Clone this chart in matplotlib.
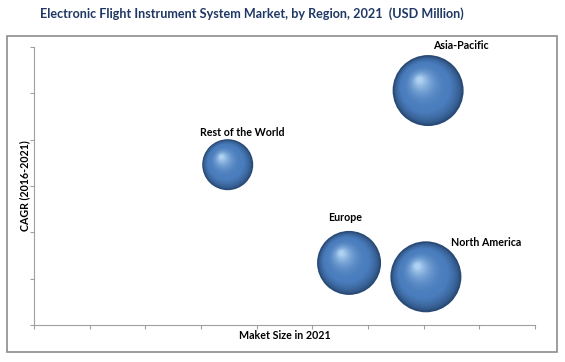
import numpy as np
import matplotlib
matplotlib.use("Agg")
import matplotlib.pyplot as plt
from matplotlib.transforms import offset_copy
from matplotlib.patches import Rectangle

# dữ liệu
regions = ["Asia-Pacific", "Rest of the World", "Europe", "North America"]
market_size = [7.08, 3.48, 5.66, 7.04]
cagr = [5.06, 3.46, 1.34, 1.04]
bubble = [35.5, 25.5, 32, 35.5]  # bán kính tương đối

plt.rcParams['font.family'] = ['Lato', 'DejaVu Sans']

fig = plt.figure(figsize=(5.65, 3.62), dpi=100)
ax = fig.add_axes([34 / 565, 1 - 325 / 362, 501 / 565, 278 / 362])

# khung viền ngoài
fig.patches.append(Rectangle((7 / 565, 1 - 352 / 362), 550 / 565, 316 / 362,
                             transform=fig.transFigure, fill=False,
                             edgecolor='#8c8c8c', linewidth=1.2))

# vẽ bóng tròn với hiệu ứng 3D đơn giản
dark = np.array([0.16, 0.29, 0.46])
mid = np.array([0.29, 0.49, 0.74])
light = np.array([0.68, 0.82, 0.95])
n_layers = 50
for x, y, r in zip(market_size, cagr, bubble):
    r_pt = r * 72 / 100
    ax.scatter([x], [y], s=(2 * r_pt) ** 2, color=dark, edgecolors='none', zorder=2)
    for k in range(1, n_layers + 1):
        f = k / n_layers
        rr = r_pt * (1 - 0.92 * f) * 0.97
        shift = r_pt * 0.3 * f
        tr = offset_copy(ax.transData, fig=fig, x=-shift * 0.8, y=shift, units='points')
        if f < 0.3:
            c = dark + (mid - dark) * (f / 0.3) ** 0.6
        else:
            c = mid + (light - mid) * ((f - 0.3) / 0.7) ** 2.2
        ax.scatter([x], [y], s=(2 * rr) ** 2, color=c, edgecolors='none',
                   transform=tr, zorder=2 + k * 0.01)

# nhãn vùng (độ lệch so với tâm bóng)
label_off = {
    "Asia-Pacific": (0.59, 0.98),
    "Rest of the World": (0.27, 0.69),
    "Europe": (-0.07, 0.99),
    "North America": (1.09, 0.73),
}
for name, x, y in zip(regions, market_size, cagr):
    dx, dy = label_off[name]
    ax.annotate(name, (x, y), xytext=(x + dx, y + dy), ha='center', va='center',
                fontsize=7.7, fontweight='bold', color='black')

ax.set_xlim(0, 9)
ax.set_ylim(0, 6)
ax.set_xticks(np.arange(0, 10))
ax.set_yticks(np.arange(0, 7))
ax.set_xticklabels([])
ax.set_yticklabels([])
ax.tick_params(length=3, color='#a0a0a0', width=0.8)
for s in ['top', 'right']:
    ax.spines[s].set_visible(False)
for s in ['left', 'bottom']:
    ax.spines[s].set_color('#a0a0a0')
    ax.spines[s].set_linewidth(0.8)

ax.set_xlabel("Maket Size in 2021", fontsize=7.7, fontweight='bold', labelpad=-3)
ax.set_ylabel("CAGR (2016-2021)", fontsize=7.7, fontweight='bold', labelpad=-4)

fig.text(252 / 565, 1 - 14 / 362, "Electronic Flight Instrument System Market, by Region, 2021  (USD Million)",
         ha='center', va='center', fontsize=9.1, fontweight='bold', color='#1f3864')

fig.savefig("out.png", dpi=100)
